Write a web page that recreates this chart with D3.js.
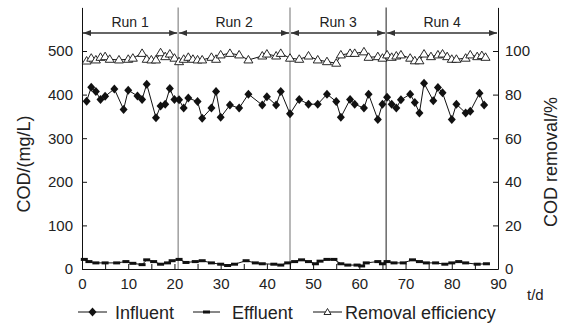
<!DOCTYPE html>
<html>
<head>
<meta charset="utf-8">
<script src="https://cdn.jsdelivr.net/npm/d3@7"></script>
<style>
  body { margin: 0; background: #fff; }
  svg { display: block; font-family: "Liberation Sans", Arial, sans-serif; }
</style>
</head>
<body>
<svg width="562" height="328"></svg>
<script>
// ---- data ----
const influentDays = [1, 2, 3, 4, 5, 7, 9, 10, 12, 13, 14, 16, 17, 18, 19, 20, 21,
  22, 23, 25, 26, 28, 29, 30, 32, 34, 36, 39, 40, 42, 43, 45,
  47, 49, 51, 53, 55, 56, 58, 59, 61, 62, 64, 65,
  66, 67, 68, 69, 71, 72, 73, 74, 76, 77, 78, 80, 81, 83, 84, 86, 87];
const influentCOD = [385, 417, 407, 389, 396, 413, 366, 410, 397, 389, 424, 347, 374, 378, 414, 389, 388,
  369, 392, 384, 346, 369, 407, 348, 376, 369, 401, 376, 395, 376, 407, 356,
  389, 378, 378, 401, 384, 348, 389, 378, 369, 401, 343, 378,
  394, 378, 369, 388, 401, 382, 358, 426, 386, 416, 404, 343, 378, 358, 362, 403, 376];

const effluentDays = [0.5, 1.5, 3, 5, 7.5, 9.5, 11, 13, 14, 15.5, 17, 18.5, 19.5,
  21, 22.5, 24.5, 26, 28, 30, 31.5, 33, 35.5, 37.5, 39, 41.5, 43, 44.5,
  46, 47.5, 49, 50.5, 51.5, 53, 54.5, 56, 57.5, 59.5, 60.5, 61.5, 64,
  65, 66, 67.5, 69.5, 71.5, 73, 74.5, 76.5, 78.5, 80, 81.5, 83, 85.5, 87.5];
const effluentCOD = [22, 17, 14, 14, 14, 17, 13, 10, 21, 17, 11, 14, 19,
  22, 15, 17, 19, 14, 11, 8, 11, 19, 14, 12, 11, 9, 14,
  17, 21, 17, 12, 18, 22, 22, 12, 9, 9, 7, 14, 17,
  12, 17, 14, 14, 21, 17, 14, 14, 11, 14, 17, 14, 11, 12];

const removalDays = [1, 2, 3, 4, 5, 6, 8, 10, 11, 13, 14, 15, 16, 17, 18, 19, 20, 21,
  22, 23, 24, 25, 26, 28, 29, 30, 32, 34, 36, 39, 40, 42, 43, 45,
  47, 49, 51, 53, 55, 56, 58, 59, 61, 62, 64, 65,
  66, 67, 68, 69, 71, 72, 73, 74, 75.5, 77, 78, 79, 80, 81, 83, 84, 85.5, 86.5, 87.3];
const removalPct = [95.4, 96.7, 95.9, 97.1, 97.4, 96.2, 95.9, 96.2, 96.7, 98.9, 96.2, 95.9, 95.9, 99.2, 97.4, 98.6, 96.7, 95.1,
  96.2, 97.1, 96.2, 95.9, 95.9, 97.1, 96.2, 98.2, 98.9, 98.2, 95.9, 97.7, 98.6, 97.7, 98.9, 96.7,
  96.2, 97.7, 95.9, 95.1, 94.4, 98.2, 98.9, 98.9, 99.6, 97.1, 97.4, 96.7,
  98.2, 97.1, 97.7, 98.2, 96.7, 95.5, 95.5, 98.6, 97.4, 98.2, 98.6, 97.4, 96.2, 96.2, 96.7, 98.2, 97.4, 97.9, 97.1];

const runNames = ["Run 1", "Run 2", "Run 3", "Run 4"];
const runBounds = [0, 20.8, 45, 65.8, 90]; // days where each run starts / ends

const xTicks = d3.range(0, 91, 5);          // labelled every 10
const leftTicks = [0, 100, 200, 300, 400, 500];
const rightTicks = [0, 20, 40, 60, 80, 100];

// ---- scales ----
const svg = d3.select("svg");
const ink = "#222";

const x = d3.scaleLinear().domain([0, 90]).range([82, 498]);
const yL = d3.scaleLinear().domain([0, 600]).range([269, 7.4]);
const yR = d3.scaleLinear().domain([0, 120]).range([269, 7.4]);

// arrow heads for the run brackets
svg.append("defs").append("marker")
  .attr("id", "head")
  .attr("viewBox", "0 0 8 6")
  .attr("refX", 8).attr("refY", 3)
  .attr("markerWidth", 8).attr("markerHeight", 6)
  .attr("markerUnits", "userSpaceOnUse")
  .attr("orient", "auto-start-reverse")
  .append("path").attr("d", "M0,0L8,3L0,6Z").attr("fill", "#333");

// ---- run separators and brackets ----
const sepColors = ["#888", "#888", "#444"];
svg.selectAll(".sep").data(runBounds.slice(1, 4)).enter().append("line")
  .attr("class", "sep")
  .attr("x1", d => x(d)).attr("x2", d => x(d))
  .attr("y1", yL.range()[1]).attr("y2", yL(0))
  .attr("stroke", (d, i) => sepColors[i])
  .attr("stroke-width", 1.2);

runNames.forEach((name, i) => {
  const a = x(runBounds[i]), b = x(runBounds[i + 1]);
  svg.append("line")
    .attr("x1", a + 1).attr("x2", b - 1)
    .attr("y1", 33).attr("y2", 33)
    .attr("stroke", "#333").attr("stroke-width", 1.5)
    .attr("marker-start", "url(#head)")
    .attr("marker-end", "url(#head)");
  svg.append("text")
    .attr("x", (a + b) / 2).attr("y", 27)
    .attr("text-anchor", "middle")
    .attr("font-size", 14).attr("fill", ink)
    .text(name);
});

// ---- axes ----
function styleAxis(g) {
  g.selectAll("path, line").attr("stroke", "#111").attr("stroke-width", 1);
  g.selectAll("text").attr("font-size", 15).attr("fill", ink)
    .attr("font-family", "'Liberation Sans', Arial, sans-serif");
}

svg.append("g")
  .attr("transform", `translate(0,${yL(0)})`)
  .call(d3.axisBottom(x).tickValues(xTicks).tickSizeInner(-5).tickSizeOuter(0)
    .tickPadding(9).tickFormat(d => d % 10 === 0 ? d : ""))
  .call(styleAxis);

svg.append("g")
  .attr("transform", `translate(${x(0)},0)`)
  .call(d3.axisLeft(yL).tickValues(leftTicks).tickSizeInner(-5).tickSizeOuter(0).tickPadding(9))
  .call(styleAxis);

svg.append("g")
  .attr("transform", `translate(${x(90)},0)`)
  .call(d3.axisRight(yR).tickValues(rightTicks).tickSizeInner(-5).tickSizeOuter(0).tickPadding(7))
  .call(styleAxis);

// axis titles
svg.append("text")
  .attr("transform", "translate(30,164) rotate(-90)")
  .attr("text-anchor", "middle").attr("font-size", 18).attr("fill", ink)
  .text("COD/(mg/L)");
svg.append("text")
  .attr("transform", "translate(557,162) rotate(-90)")
  .attr("text-anchor", "middle").attr("font-size", 18).attr("fill", ink)
  .text("COD removal/%");
svg.append("text")
  .attr("x", 527).attr("y", 300)
  .attr("font-size", 15).attr("fill", ink)
  .text("t/d");

// ---- series ----
const diamond = "M0,-4.5L4,0L0,4.5L-4,0Z";
const triangle = "M0,-4.5L4.5,3L-4.5,3Z";

const influent = d3.zip(influentDays, influentCOD);
const effluent = d3.zip(effluentDays, effluentCOD);
const removal = d3.zip(removalDays, removalPct);

const lineL = d3.line().x(d => x(d[0])).y(d => yL(d[1]));
const lineR = d3.line().x(d => x(d[0])).y(d => yR(d[1]));

// effluent
svg.append("path").datum(effluent)
  .attr("d", lineL).attr("fill", "none").attr("stroke", "#111").attr("stroke-width", 1);
svg.selectAll(".eff").data(effluent).enter().append("rect")
  .attr("class", "eff")
  .attr("x", d => x(d[0]) - 3.5).attr("y", d => yL(d[1]) - 1.5)
  .attr("width", 7).attr("height", 3)
  .attr("fill", "#111");

// influent
svg.append("path").datum(influent)
  .attr("d", lineL).attr("fill", "none").attr("stroke", "#111").attr("stroke-width", 1);
svg.selectAll(".inf").data(influent).enter().append("path")
  .attr("class", "inf")
  .attr("d", diamond)
  .attr("transform", d => `translate(${x(d[0])},${yL(d[1])})`)
  .attr("fill", "#111");

// removal efficiency
svg.append("path").datum(removal)
  .attr("d", lineR).attr("fill", "none").attr("stroke", "#111").attr("stroke-width", 1);
svg.selectAll(".rem").data(removal).enter().append("path")
  .attr("class", "rem")
  .attr("d", triangle)
  .attr("transform", d => `translate(${x(d[0])},${yR(d[1])})`)
  .attr("fill", "#fff").attr("stroke", "#111").attr("stroke-width", 0.9);

// ---- legend ----
const legendY = 312;
const legendItems = [
  { label: "Influent", x0: 78, x1: 107, tx: 115, mark: "diamond" },
  { label: "Effluent", x0: 193, x1: 220, tx: 232, mark: "dash" },
  { label: "Removal efficiency", x0: 313, x1: 342, tx: 345, mark: "triangle" }
];
legendItems.forEach(it => {
  const g = svg.append("g");
  const cx = (it.x0 + it.x1) / 2;
  g.append("line")
    .attr("x1", it.x0).attr("x2", it.x1)
    .attr("y1", legendY).attr("y2", legendY)
    .attr("stroke", "#111").attr("stroke-width", 1);
  if (it.mark === "diamond") {
    g.append("path").attr("d", diamond).attr("transform", `translate(${cx},${legendY})`).attr("fill", "#111");
  } else if (it.mark === "dash") {
    g.append("rect").attr("x", cx - 3.5).attr("y", legendY - 1.5).attr("width", 7).attr("height", 3).attr("fill", "#111");
  } else {
    g.append("path").attr("d", "M0,-3.5L3.5,2.5L-3.5,2.5Z").attr("transform", `translate(${cx},${legendY})`)
      .attr("fill", "#fff").attr("stroke", "#111").attr("stroke-width", 0.9);
  }
  g.append("text")
    .attr("x", it.tx).attr("y", legendY + 6.5)
    .attr("font-size", 18).attr("fill", ink)
    .text(it.label);
});
</script>
</body>
</html>
